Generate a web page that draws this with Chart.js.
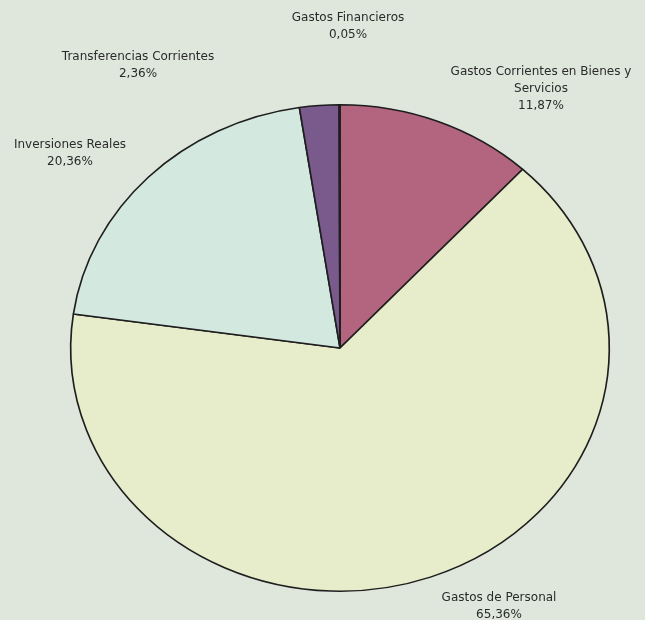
<!DOCTYPE html>
<html>
<head>
<meta charset="utf-8">
<script src="https://cdn.jsdelivr.net/npm/chart.js@4"></script>
<style>
  html, body { margin: 0; padding: 0; background: #dfe7dc; }
  #wrap { width: 645px; height: 620px; }
</style>
</head>
<body>
<div id="wrap"><canvas id="pieChart" width="645" height="620"></canvas></div>
<script>
const categories = [
  ["Gastos Corrientes en Bienes y", "Servicios"],
  ["Gastos de Personal"],
  ["Inversiones Reales"],
  ["Transferencias Corrientes"],
  ["Gastos Financieros"],
];
const shares = [11.87, 65.36, 20.36, 2.36, 0.05];
const shareLabels = ["11,87%", "65,36%", "20,36%", "2,36%", "0,05%"];
const colors = ["#b3647f", "#e7ecca", "#d3e8df", "#7a5a8d", "#6a4a78"];

// where each label sits, relative to the pie centre (px)
const labelOffsets = [
  [201, -276],
  [159, 250],
  [-270, -203],
  [-202, -291],
  [8, -330],
];
// the scan is a bit wider than tall
const stretchX = 1.107;

const stretchPlugin = {
  id: "stretch",
  beforeDatasetsDraw(chart) {
    const arc = chart.getDatasetMeta(0).data[0];
    const ctx = chart.ctx;
    ctx.save();
    ctx.translate(arc.x, arc.y);
    ctx.scale(stretchX, 1);
    ctx.translate(-arc.x, -arc.y);
  },
  afterDatasetsDraw(chart) {
    chart.ctx.restore();
  },
};

const labelPlugin = {
  id: "sliceLabels",
  afterDraw(chart) {
    const ctx = chart.ctx;
    const arc = chart.getDatasetMeta(0).data[0];
    ctx.save();
    ctx.fillStyle = "#2a2a2a";
    ctx.font = "12px 'DejaVu Sans'";
    ctx.textAlign = "center";
    ctx.textBaseline = "middle";
    categories.forEach((lines, i) => {
      const x = arc.x + labelOffsets[i][0];
      let y = arc.y + labelOffsets[i][1];
      lines.concat([shareLabels[i]]).forEach((t) => {
        ctx.fillText(t, x, y);
        y += 17;
      });
    });
    ctx.restore();
  },
};

const cto = document.getElementById("pieChart");
const pie = new Chart(cto, {
  type: "pie",
  data: {
    labels: categories.map((c) => c.join(" ")),
    datasets: [
      {
        data: shares,
        backgroundColor: colors,
        borderColor: "#1e1e1e",
        borderWidth: 1.5,
      },
    ],
  },
  options: {
    responsive: false,
    animation: false,
    layout: { padding: { top: 104, bottom: 28, left: 96, right: 61 } },
    plugins: {
      legend: { display: false },
      tooltip: { enabled: false },
    },
  },
  plugins: [stretchPlugin, labelPlugin],
});
</script>
</body>
</html>
